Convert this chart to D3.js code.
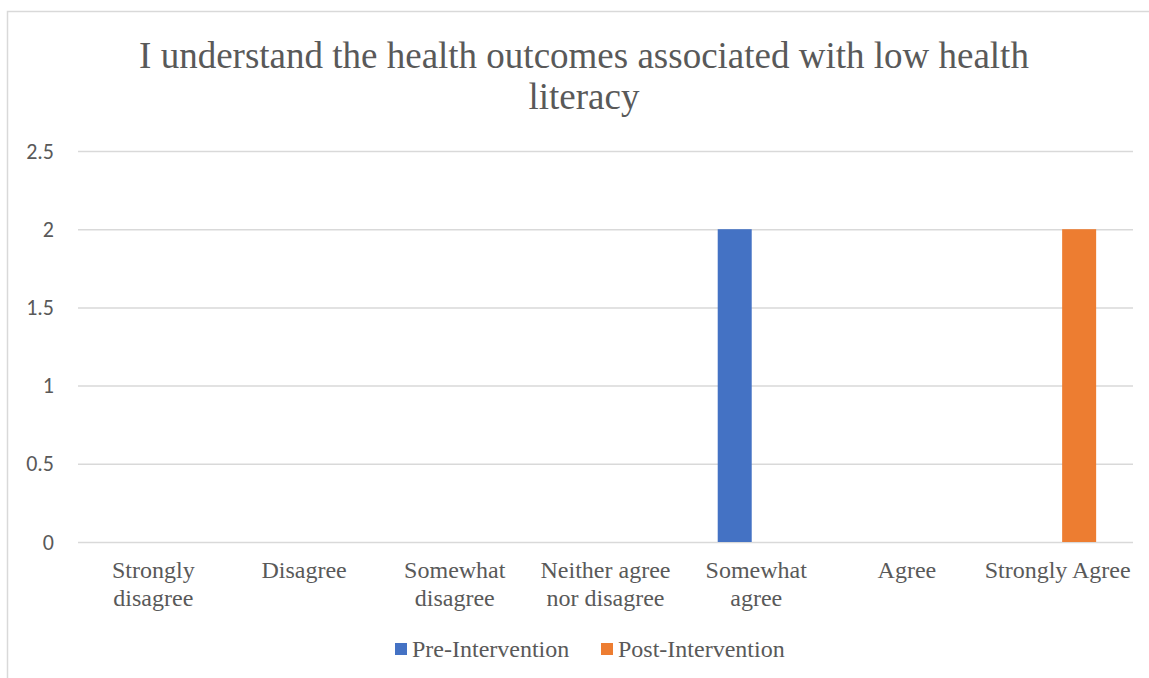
<!DOCTYPE html>
<html>
<head>
<meta charset="utf-8">
<script src="https://cdn.jsdelivr.net/npm/d3@7"></script>
<style>
  html, body { margin: 0; padding: 0; background: #fff; }
  svg { display: block; }
  .serif { font-family: "Liberation Serif", "Times New Roman", Times, serif; }
  .sans { font-family: Carlito, Calibri, "Open Sans", sans-serif; }
</style>
</head>
<body>
<svg id="chart" width="1149" height="678"></svg>
<script>
// Survey responses per answer category
const categories = ["Strongly disagree", "Disagree", "Somewhat disagree", "Neither agree nor disagree", "Somewhat agree", "Agree", "Strongly Agree"];
const categoryLines = [["Strongly", "disagree"], ["Disagree"], ["Somewhat", "disagree"], ["Neither agree", "nor disagree"], ["Somewhat", "agree"], ["Agree"], ["Strongly Agree"]];
const seriesNames = ["Pre-Intervention", "Post-Intervention"];
const preValues = [0, 0, 0, 0, 2, 0, 0];
const postValues = [0, 0, 0, 0, 0, 0, 2];
const yTicks = [0, 0.5, 1, 1.5, 2, 2.5];
const titleLines = ["I understand the health outcomes associated with low health", "literacy"];

const colors = ["#4472C4", "#ED7D31"];
const textColor = "#595959";

const svg = d3.select("#chart");

// chart frame
svg.append("rect")
  .attr("x", 7.5).attr("y", 11.5)
  .attr("width", 1160).attr("height", 700)
  .attr("fill", "#fff").attr("stroke", "#d9d9d9").attr("stroke-width", 1.5);

const plot = { left: 78, right: 1133, top: 151, bottom: 542 };

const x0 = d3.scaleBand().domain(categories).range([plot.left, plot.right]).padding(0);
const bw = x0.bandwidth();
// two 34px bars per category with a 9px gap between them
const x1 = d3.scaleBand().domain(seriesNames).range([bw / 2 - 38.5, bw / 2 + 38.5])
  .paddingInner(9 / 43).paddingOuter(0);
const y = d3.scaleLinear().domain([0, 2.5]).range([plot.bottom, plot.top]);

// title
svg.append("g").selectAll("text").data(titleLines).join("text")
  .attr("class", "serif")
  .attr("x", 584).attr("y", (d, i) => 68 + i * 41)
  .attr("text-anchor", "middle")
  .attr("font-size", 37)
  .attr("fill", textColor)
  .text(d => d);

// horizontal gridlines and value labels
const yAxis = d3.axisLeft(y).tickValues(yTicks).tickSize(-(plot.right - plot.left)).tickPadding(24)
  .tickFormat(d3.format("~g"));
const gy = svg.append("g").attr("transform", `translate(${plot.left},0)`).call(yAxis);
gy.attr("font-family", null).attr("font-size", null);
gy.select(".domain").remove();
gy.selectAll(".tick line").attr("stroke", "#d9d9d9").attr("stroke-width", 1.5);
gy.selectAll(".tick text")
  .attr("class", "sans").attr("font-size", 22).attr("fill", textColor);

// bars
const rows = categories.map((c, i) => ({ cat: c, vals: [preValues[i], postValues[i]] }));
svg.append("g").selectAll("g").data(rows).join("g")
  .attr("transform", d => `translate(${x0(d.cat)},0)`)
  .selectAll("rect")
  .data(d => d.vals.map((v, j) => ({ name: seriesNames[j], v, j })))
  .join("rect")
  .attr("x", d => x1(d.name))
  .attr("width", x1.bandwidth())
  .attr("y", d => y(d.v))
  .attr("height", d => y(0) - y(d.v))
  .attr("fill", d => colors[d.j]);

// category labels
const xl = svg.append("g");
categories.forEach((c, i) => {
  const t = xl.append("text")
    .attr("class", "serif")
    .attr("x", x0(c) + bw / 2).attr("y", 578)
    .attr("text-anchor", "middle")
    .attr("font-size", 24)
    .attr("fill", textColor);
  categoryLines[i].forEach((ln, k) => {
    t.append("tspan").attr("x", x0(c) + bw / 2).attr("dy", k === 0 ? 0 : 28).text(ln);
  });
});

// legend
const legendPos = [395, 601];
const lg = svg.append("g");
seriesNames.forEach((s, i) => {
  lg.append("rect").attr("x", legendPos[i]).attr("y", 643).attr("width", 12).attr("height", 12).attr("fill", colors[i]);
  lg.append("text").attr("class", "serif").attr("x", legendPos[i] + 17).attr("y", 657)
    .attr("font-size", 24).attr("fill", textColor).text(s);
});
</script>
</body>
</html>
